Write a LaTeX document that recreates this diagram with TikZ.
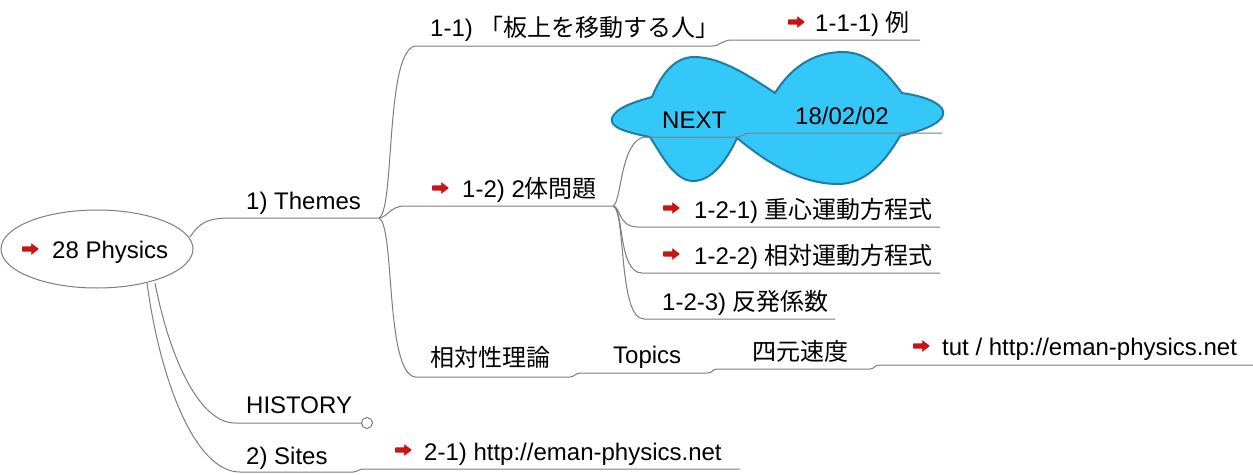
\documentclass[tikz,border=0pt]{standalone}
\usepackage{fontspec}
\setmainfont{Liberation Sans}
\newfontfamily\jp{Noto Sans CJK JP}
\usetikzlibrary{shapes.geometric}
\definecolor{linegray}{RGB}{125,125,125}
\definecolor{arrowred}{RGB}{200,20,20}
\definecolor{cloudfill}{RGB}{52,200,248}
\definecolor{cloudedge}{RGB}{30,125,165}
\tikzset{
  conn/.style={draw=linegray, line width=1pt},
  lbl/.style={anchor=base west, inner sep=0pt, font=\fontsize{24}{28}\selectfont, text=black},
  redarrow/.pic={\fill[arrowred, rounded corners=0.8pt] (0,-2.6) -- (9.5,-2.6) -- (9,-6) -- (17,0) -- (9,6) -- (9.5,2.6) -- (0,2.6) -- cycle;},
  cloudshape/.style={draw=cloudedge, fill=cloudfill, line width=2pt, line join=round}
}
\begin{document}
\begin{tikzpicture}[x=1pt,y=-1pt]
\useasboundingbox (0,0) rectangle (1253,474);
% cloud
\path[cloudshape] (612,118) .. controls (616,107) and (638,101) .. (652,97)
  .. controls (662,72) and (676,57) .. (694,57)
  .. controls (722,57) and (752,78) .. (775,93)
  .. controls (792,66) and (815,52) .. (843,52)
  .. controls (872,52) and (890,78) .. (902,93)
  .. controls (930,97) and (946,106) .. (943,115)
  .. controls (940,125) and (917,132) .. (900,136)
  .. controls (884,164) and (864,184) .. (838,184)
  .. controls (795,184) and (758,155) .. (737,138)
  .. controls (727,160) and (712,181) .. (693,181)
  .. controls (674,181) and (660,152) .. (650,137)
  .. controls (625,132) and (609,127) .. (612,118) -- cycle;
% root
\node[draw=linegray, line width=1pt, ellipse, minimum width=192pt, minimum height=78pt, inner sep=0pt] (root) at (97,249) {};
% coordinates
\coordinate (rootE) at (190,237);
\coordinate (rootS1) at (155,283);
\coordinate (rootS2) at (147,283);
\coordinate (j1) at (379,218);
\coordinate (j2) at (613,206);
\coordinate (histend) at (367,423);
% connectors
\draw[conn] (rootE) .. controls (200,222) and (208,218) .. (232,218) -- (j1);
\draw[conn] (j1) .. controls (395,210) and (385,52) .. (415,46) -- (712,46) .. controls (720,46) and (722,40) .. (732,40) -- (920,40);
\draw[conn] (j1) .. controls (388,217) and (390,206) .. (405,206) -- (j2);
\draw[conn] (j2) .. controls (622,202) and (620,140) .. (645,137) -- (737,137) .. controls (742,137) and (744,133) .. (750,133) -- (942,133);
\draw[conn] (j2) .. controls (621,207) and (618,227) .. (638,227) -- (940,227);
\draw[conn] (j2) .. controls (624,208) and (618,273) .. (642,273) -- (940,273);
\draw[conn] (j2) .. controls (626,210) and (618,319) .. (644,319) -- (835,319);
\draw[conn] (j1) .. controls (395,226) and (385,372) .. (415,377) -- (570,377) .. controls (574,377) and (576,373) .. (580,373) -- (708,373) .. controls (712,373) and (713,369) .. (717,369) -- (870,369) .. controls (874,369) and (875,365) .. (879,365) -- (1253,365);
\draw[conn] (rootS1) .. controls (170,360) and (200,423) .. (235,423) -- (361.5,423);
\draw[conn] (histend) circle (5.5);
\draw[conn] (rootS2) .. controls (160,380) and (195,472) .. (240,472) -- (353,472) .. controls (357,472) and (359,469) .. (363,469) -- (740,469);
% labels
\pic at (22,249) {redarrow};
\node[lbl] (rootlbl) at (52,258) {28 Physics};
\node[lbl] (themes) at (246,209) {1) Themes};
\node[lbl] (t11) at (430,36) {1-1) {\jp 「板上を移動する人」}};
\pic at (788,22) {redarrow};
\node[lbl] (t111) at (815,31) {1-1-1) {\jp 例}};
\pic at (432,188) {redarrow};
\node[lbl] (t12) at (462,197) {1-2) 2{\jp 体問題}};
\node[lbl] (next) at (662,128) {NEXT};
\node[lbl] (date) at (795,124) {18/02/02};
\pic at (663,208) {redarrow};
\node[lbl] (t121) at (694,218) {1-2-1) {\jp 重心運動方程式}};
\pic at (663,254) {redarrow};
\node[lbl] (t122) at (694,264) {1-2-2) {\jp 相対運動方程式}};
\node[lbl] (t123) at (662,310) {1-2-3) {\jp 反発係数}};
\node[lbl] (rel) at (430,366) {\jp 相対性理論};
\node[lbl] (topics) at (613,363) {Topics};
\node[lbl] (four) at (752,360) {\jp 四元速度};
\pic at (913,346) {redarrow};
\node[lbl] (tut) at (942,355) {tut / http://eman-physics.net};
\node[lbl] (hist) at (246,413) {HISTORY};
\node[lbl] (sites) at (246,464) {2) Sites};
\pic at (395,450) {redarrow};
\node[lbl] (t21) at (424,460) {2-1) http://eman-physics.net};
\end{tikzpicture}
\end{document}
